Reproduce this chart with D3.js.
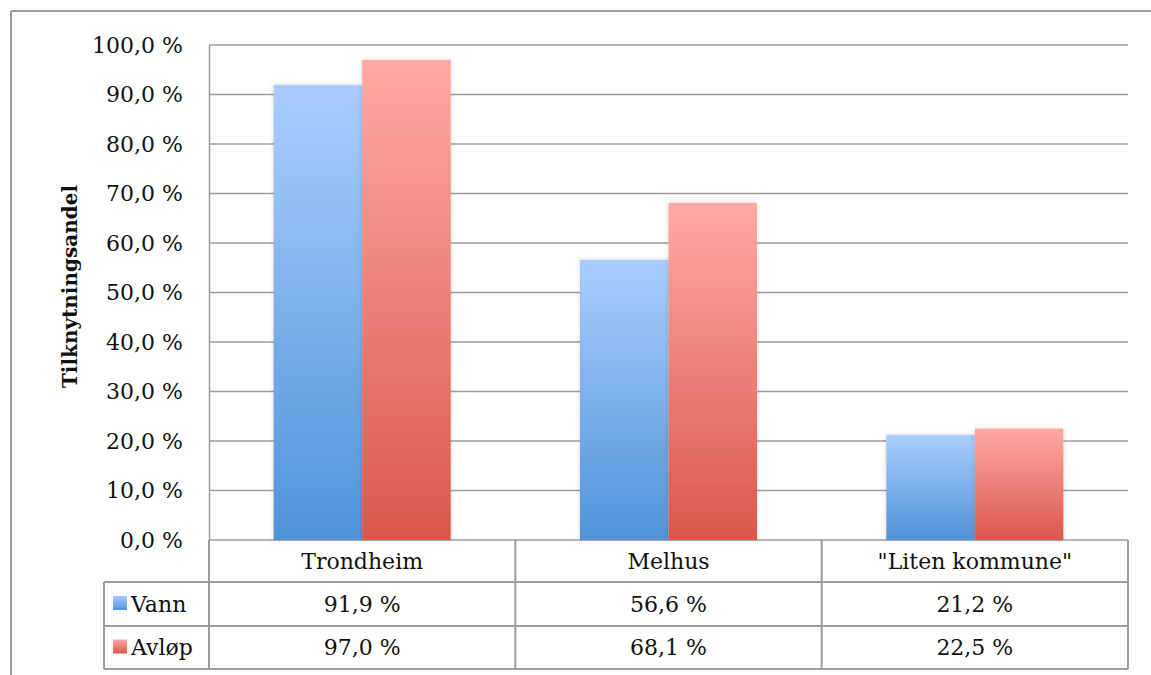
<!DOCTYPE html>
<html>
<head>
<meta charset="utf-8">
<script src="https://cdn.jsdelivr.net/npm/d3@7"></script>
<style>
  html, body { margin: 0; padding: 0; background: #fff; }
  svg { display: block; }
  text { font-family: "DejaVu Serif", "Liberation Serif", serif; fill: #111; }
</style>
</head>
<body>
<svg id="chart" width="1151" height="675"></svg>
<script>
// Connection share (tilknytningsandel) for water and sewage
const categories = ["Trondheim", "Melhus", "\"Liten kommune\""];
const seriesNames = ["Vann", "Avløp"];
const vann = [91.9, 56.6, 21.2];
const avlop = [97.0, 68.1, 22.5];
const yTicks = [0, 10, 20, 30, 40, 50, 60, 70, 80, 90, 100];
const yTitle = "Tilknytningsandel";

const seriesValues = [vann, avlop];
const gradients = [
  { id: "gVann", top: "#aacdfe", bottom: "#4f93d8" },
  { id: "gAvlop", top: "#fea9a6", bottom: "#da574b" }
];

const svg = d3.select("#chart");
const gridColor = "#9c9c9c";
const fontSize = "22px";

const locale = d3.formatLocale({ decimal: ",", thousands: " ", grouping: [3], currency: ["", ""] });
const pct = v => locale.format(".1f")(v) + " %";

const plot = { left: 209, right: 1128, top: 45, bottom: 540 };
const table = { left: 104, headerBottom: 582, row1Bottom: 626, row2Bottom: 669 };

// gradients and a soft shadow for the bars
const defs = svg.append("defs");
gradients.forEach(g => {
  const lg = defs.append("linearGradient").attr("id", g.id)
    .attr("x1", 0).attr("y1", 0).attr("x2", 0).attr("y2", 1);
  lg.append("stop").attr("offset", "0%").attr("stop-color", g.top);
  lg.append("stop").attr("offset", "100%").attr("stop-color", g.bottom);
});
const shadow = defs.append("filter").attr("id", "shadow")
  .attr("x", "-10%").attr("y", "-10%").attr("width", "120%").attr("height", "120%");
shadow.append("feDropShadow").attr("dx", 0).attr("dy", 0).attr("stdDeviation", 2)
  .attr("flood-color", "#000").attr("flood-opacity", 0.18);

// outer frame (top and left edges)
svg.append("line").attr("x1", 11).attr("x2", 1151).attr("y1", 11).attr("y2", 11)
  .attr("stroke", gridColor).attr("stroke-width", 2);
svg.append("line").attr("x1", 11).attr("x2", 11).attr("y1", 11).attr("y2", 675)
  .attr("stroke", gridColor).attr("stroke-width", 2);

// scales
const y = d3.scaleLinear().domain([0, 100]).range([plot.bottom, plot.top]);
const x0 = d3.scaleBand().domain(categories).range([plot.left, plot.right]).padding(0);
const x1 = d3.scaleBand().domain(seriesNames).range([0, x0.bandwidth()])
  .paddingInner(0).paddingOuter(0.73);

// gridlines
svg.append("g").selectAll("line").data(yTicks).join("line")
  .attr("x1", plot.left).attr("x2", plot.right)
  .attr("y1", d => y(d)).attr("y2", d => y(d))
  .attr("stroke", gridColor).attr("stroke-width", 1.5);

// y axis
const yAxis = svg.append("g").attr("transform", `translate(${plot.left},0)`)
  .call(d3.axisLeft(y).tickValues(yTicks).tickFormat(pct).tickSize(0).tickPadding(26));
yAxis.select(".domain").attr("stroke", gridColor).attr("stroke-width", 1.5);
yAxis.selectAll("text").style("font-family", "DejaVu Serif").style("font-size", fontSize)
  .attr("fill", "#111");

// axis title
svg.append("text")
  .attr("transform", `translate(77,${(plot.top + plot.bottom) / 2 - 6}) rotate(-90)`)
  .attr("text-anchor", "middle")
  .style("font-size", "20px").style("font-weight", "bold")
  .text(yTitle);

// bars
const groups = svg.append("g").selectAll("g").data(categories).join("g")
  .attr("transform", d => `translate(${x0(d)},0)`);
groups.selectAll("rect")
  .data((c, i) => seriesNames.map((s, j) => ({ s, j, v: seriesValues[j][i] })))
  .join("rect")
  .attr("x", d => x1(d.s))
  .attr("width", x1.bandwidth())
  .attr("y", d => y(d.v))
  .attr("height", d => y(0) - y(d.v))
  .attr("fill", d => `url(#${gradients[d.j].id})`)
  .attr("filter", "url(#shadow)");

// data table
const tg = svg.append("g");
const lineAttrs = sel => sel.attr("stroke", gridColor).attr("stroke-width", 2);
const rowBounds = [plot.bottom, table.headerBottom, table.row1Bottom, table.row2Bottom];

// horizontal table rules
[table.headerBottom, table.row1Bottom, table.row2Bottom].forEach(yy => {
  lineAttrs(tg.append("line").attr("x1", table.left).attr("x2", plot.right)
    .attr("y1", yy).attr("y2", yy));
});
// vertical table rules
const colEdges = categories.map(c => x0(c)).concat([plot.right]);
colEdges.forEach(xx => {
  lineAttrs(tg.append("line").attr("x1", xx).attr("x2", xx)
    .attr("y1", plot.bottom).attr("y2", table.row2Bottom));
});
lineAttrs(tg.append("line").attr("x1", table.left).attr("x2", table.left)
  .attr("y1", table.headerBottom).attr("y2", table.row2Bottom));

// category headers
tg.selectAll("text.cat").data(categories).join("text").attr("class", "cat")
  .attr("x", d => x0(d) + x0.bandwidth() / 2)
  .attr("y", (rowBounds[0] + rowBounds[1]) / 2)
  .attr("dy", "0.35em").attr("text-anchor", "middle")
  .style("font-size", fontSize).text(d => d);

// value rows with legend keys
seriesNames.forEach((s, j) => {
  const cy = (rowBounds[j + 1] + rowBounds[j + 2]) / 2;
  tg.append("rect").attr("x", 113).attr("y", cy - 8).attr("width", 14).attr("height", 14)
    .attr("fill", `url(#${gradients[j].id})`);
  tg.append("text").attr("x", 131).attr("y", cy).attr("dy", "0.35em")
    .style("font-size", fontSize).text(s);
  tg.selectAll(null).data(categories).join("text")
    .attr("x", d => x0(d) + x0.bandwidth() / 2)
    .attr("y", cy).attr("dy", "0.35em").attr("text-anchor", "middle")
    .style("font-size", fontSize)
    .text((d, i) => pct(seriesValues[j][i]));
});
</script>
</body>
</html>
